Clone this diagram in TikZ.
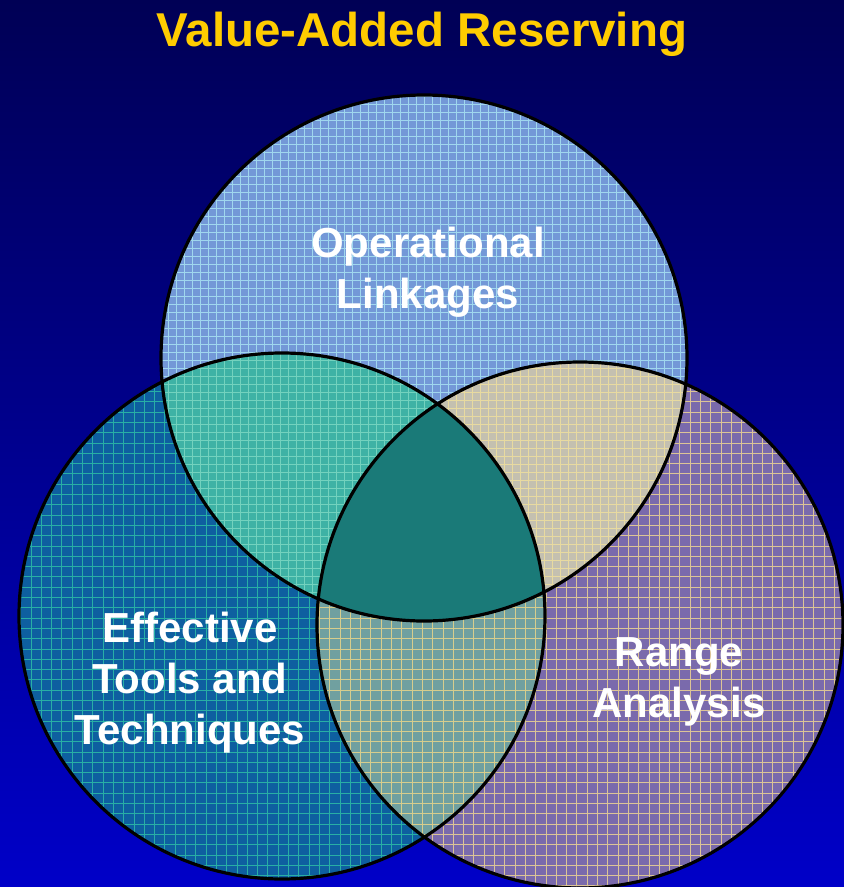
\documentclass[tikz,border=0pt]{standalone}
\usepackage{fontspec}
\setmainfont{Liberation Sans}

\definecolor{bgtop}{RGB}{0,0,85}
\definecolor{bgbot}{RGB}{0,0,200}
\definecolor{gold}{RGB}{255,204,0}
\definecolor{opsfill}{RGB}{115,152,215}
\definecolor{opsline}{RGB}{160,215,238}
\definecolor{toolfill}{RGB}{14,95,160}
\definecolor{toolline}{RGB}{40,175,165}
\definecolor{rangefill}{RGB}{122,106,172}
\definecolor{rangeline}{RGB}{220,196,150}
\definecolor{optofill}{RGB}{62,178,165}
\definecolor{optoline}{RGB}{115,210,190}
\definecolor{oprafill}{RGB}{196,192,176}
\definecolor{opraline}{RGB}{232,218,160}
\definecolor{torafill}{RGB}{112,160,160}
\definecolor{toraline}{RGB}{215,205,140}
\definecolor{core}{RGB}{26,122,120}

\tikzset{
  ring/.style={draw=black, line width=3.2pt},
  hatch/.style={line width=0.8pt},
  lbl/.style={text=white, align=center, font=\bfseries\fontsize{42}{51}\selectfont},
}

\begin{document}
\begin{tikzpicture}[x=1pt,y=-1pt]
\useasboundingbox (0,0) rectangle (844,887);
\shade[top color=bgtop, bottom color=bgbot] (0,0) rectangle (844,887);

\coordinate (ops) at (424,358);
\coordinate (tools) at (282,616);
\coordinate (range) at (580,625);
\def\r{263}

% single circles
\fill[opsfill] (ops) circle[radius=\r];
\begin{scope}
\clip (ops) circle[radius=\r];
\draw[opsline, hatch, step=8pt] (0,0) grid (844,887);
\end{scope}
\fill[toolfill] (tools) circle[radius=\r];
\begin{scope}
\clip (tools) circle[radius=\r];
\draw[toolline, hatch, step=10.3pt] (0,0) grid (844,887);
\end{scope}
\fill[rangefill] (range) circle[radius=\r];
\begin{scope}
\clip (range) circle[radius=\r];
\draw[rangeline, hatch, step=10.3pt] (0,0) grid (844,887);
\end{scope}

% overlaps
\begin{scope}
\clip (ops) circle[radius=\r];
\clip (tools) circle[radius=\r];
\fill[optofill] (0,0) rectangle (844,887);
\draw[optoline, hatch, step=8pt] (0,0) grid (844,887);
\end{scope}
\begin{scope}
\clip (ops) circle[radius=\r];
\clip (range) circle[radius=\r];
\fill[oprafill] (0,0) rectangle (844,887);
\draw[opraline, hatch, step=8pt] (0,0) grid (844,887);
\end{scope}
\begin{scope}
\clip (tools) circle[radius=\r];
\clip (range) circle[radius=\r];
\fill[torafill] (0,0) rectangle (844,887);
\draw[toraline, hatch, step=10.3pt] (0,0) grid (844,887);
\end{scope}
\begin{scope}
\clip (ops) circle[radius=\r];
\clip (tools) circle[radius=\r];
\clip (range) circle[radius=\r];
\fill[core] (0,0) rectangle (844,887);
\end{scope}

\draw[ring] (ops) circle[radius=\r];
\draw[ring] (tools) circle[radius=\r];
\draw[ring] (range) circle[radius=\r];

\node[anchor=base, text=gold, font=\bfseries\fontsize{47.5}{57}\selectfont] (title) at (422,46) {Value-Added Reserving};
\node[lbl] (opslbl) at (428,272) {Operational\\Linkages};
\node[lbl] (toolslbl) at (190,683) {Effective\\Tools and\\Techniques};
\node[lbl] (rangelbl) at (679,682) {Range\\Analysis};
\end{tikzpicture}
\end{document}
